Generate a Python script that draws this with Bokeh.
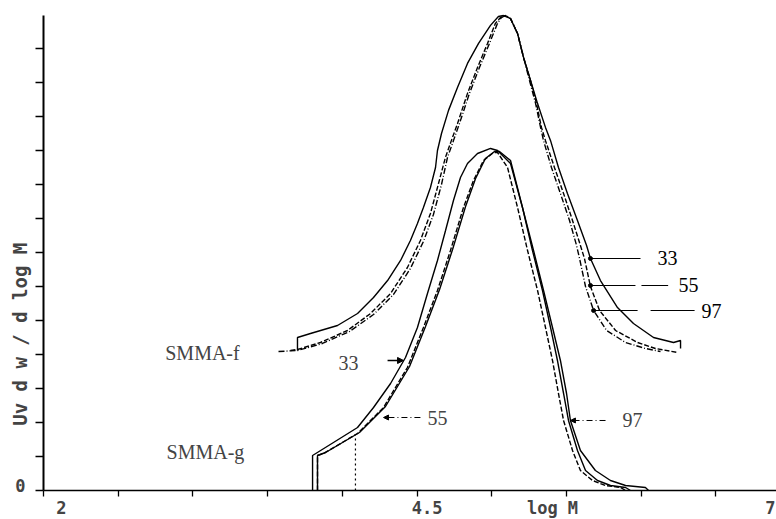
import math
from bokeh.plotting import figure
from bokeh.models import Label, FixedTicker, Arrow, NormalHead, LinearAxis
from bokeh.embed import file_html
from bokeh.resources import INLINE

# ---------------- data (log M , Uv dw/dlogM) ----------------
# SMMA-f set (drawn with a vertical offset in the original figure)
f33_x = [3.700, 3.700, 3.787, 3.968, 4.102, 4.209, 4.303, 4.390, 4.456, 4.503, 4.543, 4.590, 4.624,
         4.637, 4.664, 4.711, 4.771, 4.838, 4.912, 4.992, 5.045, 5.079, 5.126, 5.173, 5.213, 5.260,
         5.307, 5.360, 5.394, 5.447, 5.507, 5.574, 5.635, 5.661, 5.728, 5.842, 5.949, 6.083, 6.217,
         6.264, 6.264]
f33_y = [4.118, 4.500, 4.618, 4.853, 5.206, 5.676, 6.176, 6.765, 7.353, 7.853, 8.324, 8.912, 9.500,
         10.00, 10.50, 11.18, 11.85, 12.56, 13.15, 13.68, 13.94, 13.97, 13.88, 13.44, 12.74, 12.06,
         11.38, 10.68, 10.29, 9.500, 8.735, 7.941, 7.206, 6.824, 6.176, 5.382, 4.912, 4.500, 4.353,
         4.412, 4.176]

f55_x = [3.653, 3.700, 3.854, 4.035, 4.189, 4.323, 4.436, 4.523, 4.590, 4.644, 4.690, 4.730, 4.771,
         4.838, 4.905, 4.972, 5.025, 5.059, 5.092, 5.126, 5.173, 5.213, 5.260, 5.300, 5.333, 5.360,
         5.420, 5.481, 5.541, 5.594, 5.621, 5.661, 5.722, 5.829, 5.976, 6.096, 6.244]
f55_y = [4.118, 4.147, 4.353, 4.706, 5.206, 5.794, 6.559, 7.353, 8.147, 9.029, 9.794, 10.29, 10.79,
         11.68, 12.44, 13.15, 13.74, 13.91, 13.97, 13.88, 13.44, 12.74, 12.06, 11.38, 10.68, 10.29,
         9.500, 8.735, 7.941, 7.206, 6.824, 6.000, 5.294, 4.706, 4.353, 4.176, 4.059]

f97_x = [3.573, 3.700, 3.867, 4.048, 4.209, 4.343, 4.456, 4.543, 4.610, 4.664, 4.704, 4.744, 4.784,
         4.851, 4.918, 4.985, 5.039, 5.065, 5.092, 5.126, 5.173, 5.213, 5.253, 5.294, 5.327, 5.347,
         5.400, 5.460, 5.521, 5.568, 5.588, 5.628, 5.682, 5.769, 5.896, 6.030, 6.130]
f97_y = [4.088, 4.118, 4.324, 4.676, 5.176, 5.765, 6.529, 7.324, 8.118, 9.000, 9.794, 10.29, 10.79,
         11.68, 12.44, 13.15, 13.74, 13.91, 13.97, 13.88, 13.44, 12.74, 12.06, 11.38, 10.68, 10.29,
         9.500, 8.735, 7.941, 7.206, 6.824, 6.000, 5.294, 4.706, 4.353, 4.176, 4.088]

# SMMA-g set
g33_x = [3.801, 3.801, 3.941, 4.102, 4.209, 4.323, 4.423, 4.503, 4.570, 4.637, 4.691, 4.744, 4.791,
         4.838, 4.905, 4.992, 5.039, 5.126, 5.206, 5.273, 5.340, 5.394, 5.440, 5.481, 5.514, 5.574,
         5.628, 5.708, 5.795, 5.896, 5.929]
g33_y = [0.000, 1.029, 1.412, 1.853, 2.441, 3.147, 3.912, 4.794, 5.794, 6.765, 7.647, 8.529, 9.206,
         9.618, 9.912, 10.06, 10.00, 9.618, 8.324, 7.059, 5.882, 4.794, 3.824, 2.853, 2.059, 1.176,
         0.588, 0.294, 0.147, 0.088, 0.000]

g55_x = [3.834, 3.834, 3.874, 4.102, 4.276, 4.436, 4.543, 4.637, 4.724, 4.811, 4.878, 4.945, 5.012,
         5.039, 5.106, 5.173, 5.240, 5.307, 5.360, 5.407, 5.447, 5.481, 5.541, 5.594, 5.675, 5.762,
         5.863, 5.896]
g55_y = [0.000, 1.029, 1.088, 1.676, 2.441, 3.618, 4.794, 5.882, 7.059, 8.324, 9.118, 9.706, 9.941,
         9.941, 9.500, 8.324, 7.059, 5.882, 4.794, 3.824, 2.853, 2.059, 1.176, 0.588, 0.294, 0.147,
         0.088, 0.000]

g97_x = [3.834, 3.834, 3.888, 4.115, 4.289, 4.450, 4.557, 4.651, 4.738, 4.825, 4.892, 4.958, 5.019,
         5.052, 5.126, 5.206, 5.280, 5.347, 5.407, 5.460, 5.501, 5.527, 5.594, 5.694, 5.795, 5.896,
         6.029, 6.050]
g97_y = [0.000, 1.029, 1.118, 1.706, 2.471, 3.647, 4.824, 5.912, 7.088, 8.353, 9.176, 9.765, 9.971,
         9.971, 9.706, 8.324, 7.059, 5.882, 4.794, 3.824, 2.853, 2.059, 1.176, 0.588, 0.294, 0.147,
         0.088, 0.000]

# low-M cut-off mark of SMMA-g
cutoff_x = 4.088
cutoff_top = 1.6

# curve tags
f_tags = ["33", "55", "97"]
f_tag_curve_x = [5.661, 5.661, 5.682]
f_tag_y = [6.824, 6.030, 5.294]
g_tags = ["33", "55", "97"]
g_tag_curve_x = [4.410, 4.276, 5.527]
g_tag_y = [3.824, 2.147, 2.059]

x_ticks = [2.0, 2.5, 3.0, 3.5, 4.0, 4.5, 5.0, 5.5, 6.0, 6.5, 7.0]
y_ticks = list(range(0, 14))
x_tick_text = ["2", "4.5", "log M", "7"]
x_tick_text_pos = [2.12, 4.567, 5.407, 6.866]

# ---------------- figure ----------------
PX = 149.4  # px per log M unit
PY = 34.0   # px per y unit
X0, Y0 = 43, 490  # pixel position of (2, 0)

p = figure(width=776, height=519, output_backend="svg", toolbar_location=None,
           x_axis_type=None, y_axis_type=None,
           x_range=(2.0 - X0 / PX, 2.0 + (776 - X0) / PX),
           y_range=(-(519 - Y0) / PY, Y0 / PY),
           min_border=0)
p.outline_line_color = None
p.grid.visible = False
p.background_fill_color = "white"
p.border_fill_color = "white"

xax = LinearAxis(fixed_location=0, bounds=(2.0, 7.0),
                 ticker=FixedTicker(ticks=[], minor_ticks=x_ticks))
yax = LinearAxis(fixed_location=2.0, bounds=(0.0, 13.97),
                 ticker=FixedTicker(ticks=[], minor_ticks=y_ticks))
for ax in (xax, yax):
    ax.axis_line_color = "black"
    ax.minor_tick_line_color = "black"
    ax.minor_tick_in = 0
    ax.major_tick_in = 0
    ax.minor_tick_line_width = 1.3
xax.minor_tick_out = 6
yax.minor_tick_out = 8
xax.axis_line_width = 1.6
yax.axis_line_width = 2
p.add_layout(xax, "below")
p.add_layout(yax, "left")

LW = 1.4
p.line(f33_x, f33_y, line_color="black", line_width=LW)
p.line(f55_x, f55_y, line_color="black", line_width=LW, line_dash="5 2")
p.line(f97_x, f97_y, line_color="black", line_width=LW, line_dash="6 2 1 2")
p.line(g33_x, g33_y, line_color="black", line_width=LW)
p.line(g55_x, g55_y, line_color="black", line_width=LW, line_dash="5 2")
p.line(g97_x, g97_y, line_color="black", line_width=LW)
p.line([cutoff_x, cutoff_x], [0, cutoff_top], line_color="black", line_width=1.2, line_dash="2 3")

serif = "Liberation Serif"
mono = "DejaVu Sans Mono"

# SMMA-f tags: leader lines to the right
f_lead_len = [0.335, 0.52, 0.69]
f_dash = ["solid", "45 6", "44 13"]
f_text_dx = [0.516, 0.656, 0.789]
for t, cx, cy, ln, ds, dx in zip(f_tags, f_tag_curve_x, f_tag_y, f_lead_len, f_dash, f_text_dx):
    p.line([cx, cx + ln], [cy, cy], line_color="black", line_width=1.2, line_dash=ds)
    p.scatter([cx], [cy], size=4, color="black")
    p.add_layout(Label(x=cx + dx, y=cy, text=t, text_font=serif, text_font_size="20px",
                       text_align="center", text_baseline="middle", text_color="black"))

# SMMA-g tags
p.add_layout(Arrow(end=NormalHead(size=6, fill_color="black", line_color="black"),
                   x_start=g_tag_curve_x[0] - 0.107, y_start=g_tag_y[0],
                   x_end=g_tag_curve_x[0], y_end=g_tag_y[0], line_width=1.5))
p.add_layout(Label(x=g_tag_curve_x[0] - 0.369, y=g_tag_y[0] - 0.06, text=g_tags[0], text_font=serif,
                   text_font_size="20px", text_align="center", text_baseline="middle"))
p.add_layout(Arrow(end=NormalHead(size=5, fill_color="black", line_color="black"),
                   x_start=g_tag_curve_x[1] + 0.247, y_start=g_tag_y[1],
                   x_end=g_tag_curve_x[1], y_end=g_tag_y[1], line_width=1.0, line_dash="6 3 1 3"))
p.add_layout(Label(x=g_tag_curve_x[1] + 0.361, y=g_tag_y[1], text=g_tags[1], text_font=serif,
                   text_font_size="20px", text_align="center", text_baseline="middle"))
p.add_layout(Arrow(end=NormalHead(size=5, fill_color="black", line_color="black"),
                   x_start=g_tag_curve_x[2] + 0.235, y_start=g_tag_y[2],
                   x_end=g_tag_curve_x[2], y_end=g_tag_y[2], line_width=1.0, line_dash="6 3 1 3"))
p.add_layout(Label(x=g_tag_curve_x[2] + 0.415, y=g_tag_y[2], text=g_tags[2], text_font=serif,
                   text_font_size="20px", text_align="center", text_baseline="middle"))

# sample names
p.add_layout(Label(x=3.064, y=4.05, text="SMMA-f", text_font=serif, text_font_size="20px",
                   text_align="center", text_baseline="middle"))
p.add_layout(Label(x=3.084, y=1.118, text="SMMA-g", text_font=serif, text_font_size="20px",
                   text_align="center", text_baseline="middle"))

# axis texts (plotter style)
for t, xx in zip(x_tick_text, x_tick_text_pos):
    p.add_layout(Label(x=xx, y=-0.5, text=t, text_font=mono, text_font_style="bold",
                       text_font_size="17px", text_align="center", text_baseline="middle"))
p.add_layout(Label(x=1.846, y=0.147, text="0", text_font=mono, text_font_style="bold",
                   text_font_size="17px", text_align="center", text_baseline="middle"))
p.add_layout(Label(x=1.846, y=4.765, text="Uv  d w / d log M", text_font=mono,
                   text_font_style="bold", text_font_size="19px", angle=math.pi / 2,
                   text_align="center", text_baseline="middle"))

open("out.html", "w").write(file_html(p, INLINE))
